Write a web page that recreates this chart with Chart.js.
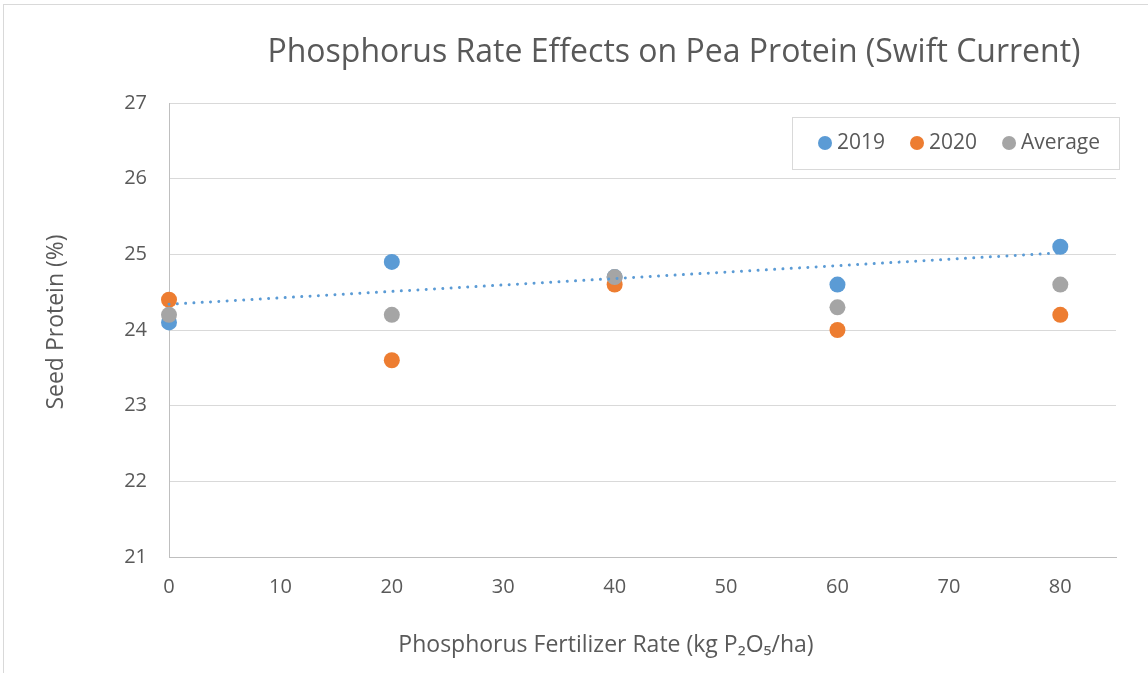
<!DOCTYPE html>
<html>
<head>
<meta charset="utf-8">
<script src="https://cdn.jsdelivr.net/npm/chart.js@4"></script>
<style>
    html, body { margin: 0; padding: 0; background: #fff; }
    #wrap { width: 1148px; height: 673px; position: relative; }
</style>
</head>
<body>
<div id="wrap"><canvas id="chart" width="1148" height="673"></canvas></div>
<script>
const rates = [0, 20, 40, 60, 80];
const protein2019 = [24.1, 24.9, 24.7, 24.6, 25.1];
const protein2020 = [24.4, 23.6, 24.6, 24.0, 24.2];
const proteinAvg = [24.2, 24.2, 24.7, 24.3, 24.6];
const xTicks = [0, 10, 20, 30, 40, 50, 60, 70, 80];
const yTicks = [21, 22, 23, 24, 25, 26, 27];

const titleText = 'Phosphorus Rate Effects on Pea Protein (Swift Current)';
const xTitle = 'Phosphorus Fertilizer Rate (kg P\u2082O\u2085/ha)';
const yTitle = 'Seed Protein (%)';

const FONT = '"Open Sans", "DejaVu Sans", sans-serif';
const TEXT = '#595959';

function points(xs, ys) {
    return xs.map((x, i) => ({ x: x, y: ys[i] }));
}

// linear trendline for 2019 (least squares)
function trend(xs, ys) {
    const n = xs.length;
    const mx = xs.reduce((a, b) => a + b, 0) / n;
    const my = ys.reduce((a, b) => a + b, 0) / n;
    let num = 0, den = 0;
    xs.forEach((x, i) => { num += (x - mx) * (ys[i] - my); den += (x - mx) * (x - mx); });
    const slope = num / den;
    const b = my - slope * mx;
    const x0 = xs[0], x1 = xs[n - 1];
    return [{ x: x0, y: b + slope * x0 }, { x: x1, y: b + slope * x1 }];
}

const frame = {
    id: 'frame',
    beforeDraw(chart) {
        const ctx = chart.ctx;
        ctx.save();
        ctx.strokeStyle = '#d9d9d9';
        ctx.lineWidth = 1;
        ctx.strokeRect(3.5, 4.5, 1160, 700);
        ctx.restore();
    },
    afterDraw(chart) {
        const ctx = chart.ctx;
        ctx.save();
        ctx.fillStyle = TEXT;
        ctx.textBaseline = 'alphabetic';

        // chart title
        ctx.font = '32px ' + FONT;
        ctx.textAlign = 'center';
        ctx.fillText(titleText, 674, 62);

        // axis titles
        ctx.font = '23px ' + FONT;
        ctx.fillText(xTitle, 606, 652);
        ctx.save();
        ctx.translate(63, 322);
        ctx.rotate(-Math.PI / 2);
        ctx.fillText(yTitle, 0, 0);
        ctx.restore();

        // legend box
        ctx.strokeStyle = '#d9d9d9';
        ctx.lineWidth = 1;
        ctx.strokeRect(792.5, 117.5, 327, 52);
        ctx.font = '21px ' + FONT;
        ctx.textAlign = 'left';
        ctx.textBaseline = 'middle';
        let x = 825;
        const y = 143;
        chart.data.datasets.filter(d => !d.isTrend).forEach(d => {
            ctx.fillStyle = d.backgroundColor;
            ctx.beginPath();
            ctx.arc(x, y, 7, 0, Math.PI * 2);
            ctx.fill();
            ctx.fillStyle = TEXT;
            ctx.fillText(d.label, x + 12, y);
            x += 12 + ctx.measureText(d.label).width + 32;
        });
        ctx.restore();
    }
};

new Chart(document.getElementById('chart'), {
    type: 'scatter',
    data: {
        datasets: [
            { label: '2019', data: points(rates, protein2019), backgroundColor: '#5b9bd5', borderColor: '#5b9bd5', pointRadius: 8, pointBorderWidth: 0, clip: false, order: 3 },
            { label: '2020', data: points(rates, protein2020), backgroundColor: '#ed7d31', borderColor: '#ed7d31', pointRadius: 8, pointBorderWidth: 0, clip: false, order: 2 },
            { label: 'Average', data: points(rates, proteinAvg), backgroundColor: '#a5a5a5', borderColor: '#a5a5a5', pointRadius: 8, pointBorderWidth: 0, clip: false, order: 1 },
            {
                label: 'Linear (2019)', isTrend: true, type: 'line',
                data: trend(rates, protein2019),
                borderColor: '#5b9bd5', backgroundColor: '#5b9bd5',
                borderWidth: 3, borderDash: [0.01, 8.3], borderCapStyle: 'round',
                pointRadius: 0, fill: false, clip: false, order: 0
            }
        ]
    },
    options: {
        responsive: false,
        animation: false,
        layout: { padding: { left: 0, right: 32, top: 103, bottom: 0 } },
        plugins: {
            legend: { display: false },
            tooltip: { enabled: false }
        },
        scales: {
            x: {
                type: 'linear', min: 0, max: 85,
                afterBuildTicks: s => { s.ticks = xTicks.map(v => ({ value: v })); },
                afterFit: s => { s.height = 116; },
                grid: { display: false, drawTicks: false },
                border: { color: '#bfbfbf', width: 1 },
                ticks: { color: TEXT, font: { family: FONT, size: 20 }, padding: 18 }
            },
            y: {
                min: 21, max: 27,
                afterBuildTicks: s => { s.ticks = yTicks.map(v => ({ value: v })); },
                afterFit: s => { s.width = 169; },
                grid: { color: '#d9d9d9', lineWidth: 1, drawTicks: false },
                border: { color: '#bfbfbf', width: 1 },
                ticks: { color: TEXT, font: { family: FONT, size: 20 }, padding: 22 }
            }
        }
    },
    plugins: [frame]
});
</script>
</body>
</html>
